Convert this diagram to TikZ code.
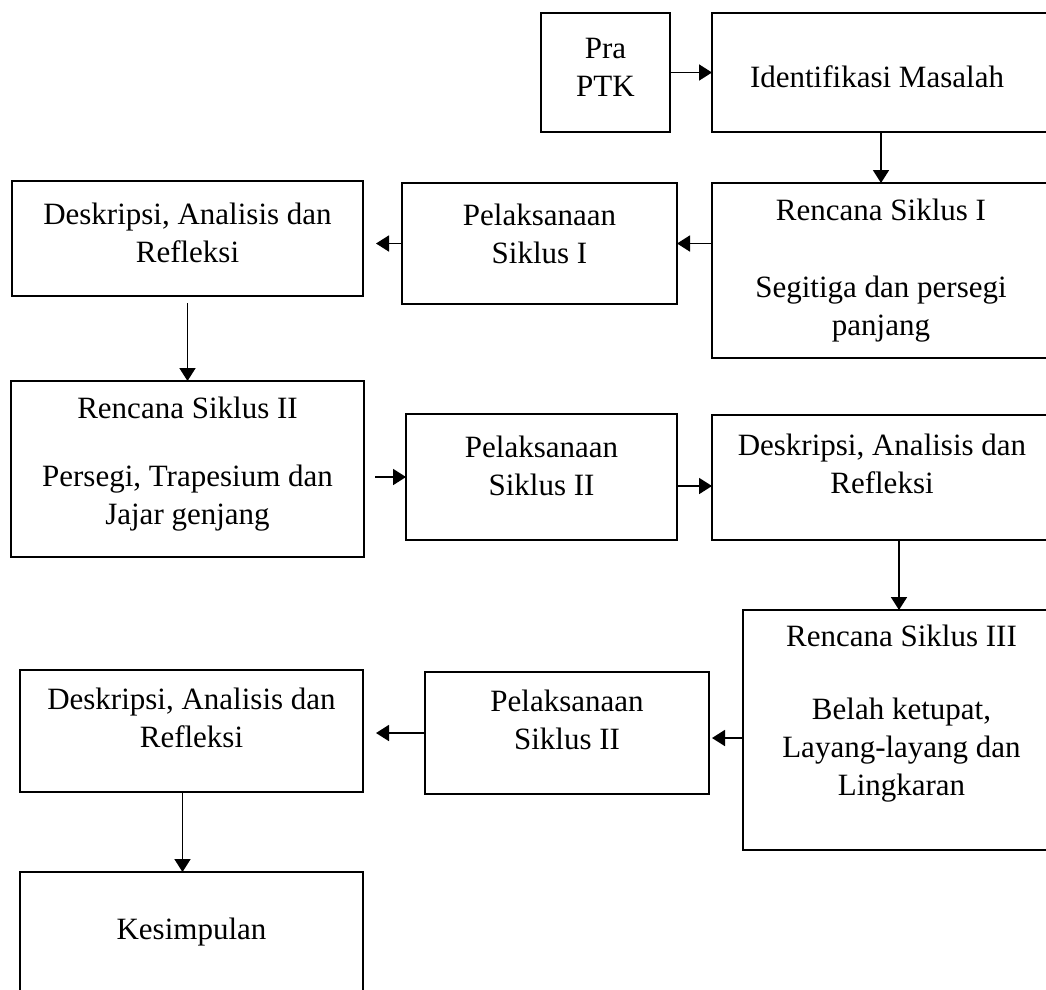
\documentclass[tikz,border=0pt]{standalone}
\usepackage{fontspec}
\setmainfont{Liberation Serif}
\usetikzlibrary{arrows.meta}
\begin{document}
\begin{tikzpicture}[x=1pt,y=1pt,
  box/.style={draw, line width=1.9pt, inner sep=0pt, outer sep=0pt},
  txt/.style={align=center, inner sep=0pt, font=\fontsize{31}{38}\selectfont},
  arr/.style={line width=1.8pt, -{Triangle[length=13pt,width=16pt]}}]
\useasboundingbox (0,0) rectangle (1046,-989);
% row 0
\node[box, minimum width=129pt, minimum height=119pt] (pra) at (605.5,-72.5) {};
\node[txt] (praT) at ([yshift=5pt]pra.center) {Pra\\PTK};
\node[box, minimum width=338pt, minimum height=119pt] (ident) at (881,-72.5) {};
\node[txt] (identT) at ([xshift=-4pt,yshift=-4pt]ident.center) {Identifikasi Masalah};
% row 1
\node[box, minimum width=351pt, minimum height=115pt] (desk1) at (187.5,-238.5) {};
\node[txt] (desk1T) at ([yshift=6pt]desk1.center) {Deskripsi, Analisis dan\\Refleksi};
\node[box, minimum width=275pt, minimum height=121pt] (pel1) at (539.5,-243.5) {};
\node[txt] (pel1T) at ([yshift=10pt]pel1.center) {Pelaksanaan\\Siklus I};
\node[box, minimum width=338pt, minimum height=175pt] (ren1) at (881,-270.5) {};
\node[txt] (ren1T) at (ren1.center) {Rencana Siklus I\\[39pt]Segitiga dan persegi\\panjang};
% row 2
\node[box, minimum width=353pt, minimum height=176pt] (ren2) at (187.5,-469) {};
\node[txt] (ren2T) at ([yshift=5pt]ren2.center) {Rencana Siklus II\\[30pt]Persegi, Trapesium dan\\Jajar genjang};
\node[box, minimum width=271pt, minimum height=126pt] (pel2) at (541.5,-477) {};
\node[txt] (pel2T) at ([yshift=11pt]pel2.center) {Pelaksanaan\\Siklus II};
\node[box, minimum width=340pt, minimum height=125pt] (desk2) at (882,-477.5) {};
\node[txt] (desk2T) at ([yshift=14pt]desk2.center) {Deskripsi, Analisis dan\\Refleksi};
% row 3
\node[box, minimum width=317pt, minimum height=240pt] (ren3) at (901.5,-730) {};
\node[txt] (ren3T) at ([yshift=16pt]ren3.center) {Rencana Siklus III\\[35pt]Belah ketupat,\\Layang-layang dan\\Lingkaran};
\node[box, minimum width=284pt, minimum height=122pt] (pel3) at (567,-733) {};
\node[txt] (pel3T) at ([yshift=13pt]pel3.center) {Pelaksanaan\\Siklus II};
\node[box, minimum width=343pt, minimum height=122pt] (desk3) at (191.5,-731) {};
\node[txt] (desk3T) at ([yshift=13pt]desk3.center) {Deskripsi, Analisis dan\\Refleksi};
% row 4
\node[box, minimum width=343pt, minimum height=120pt] (kes) at (191.5,-932) {};
\node[txt] (kesT) at (kes.center) {Kesimpulan};
% connectors
\draw[arr] (pra.east) -- (pra.east -| ident.west);
\draw[arr] (ident.south) -- (ren1.north);
\draw[arr] (pel1.east -| ren1.west) -- (pel1.east);
\draw[arr, shorten >=13pt] (pel1.west) -- (pel1.west -| desk1.east);
\draw[arr, shorten <=7pt] (desk1.south) -- (ren2.north);
\draw[arr, shorten <=11pt] (pel2.west -| ren2.east) -- (pel2.west);
\draw[arr] ([yshift=-9pt]pel2.east) -- ([yshift=-9pt]pel2.east -| desk2.west);
\draw[arr] ([xshift=17pt]desk2.south) -- ([xshift=17pt]desk2.south |- ren3.north);
\draw[arr, shorten >=3pt] ([yshift=-5pt]pel3.east -| ren3.west) -- ([yshift=-5pt]pel3.east);
\draw[arr, shorten >=13pt] (pel3.west) -- (pel3.west -| desk3.east);
\draw[arr] ([xshift=-9pt]desk3.south) -- ([xshift=-9pt]desk3.south |- kes.north);
\end{tikzpicture}
\end{document}
